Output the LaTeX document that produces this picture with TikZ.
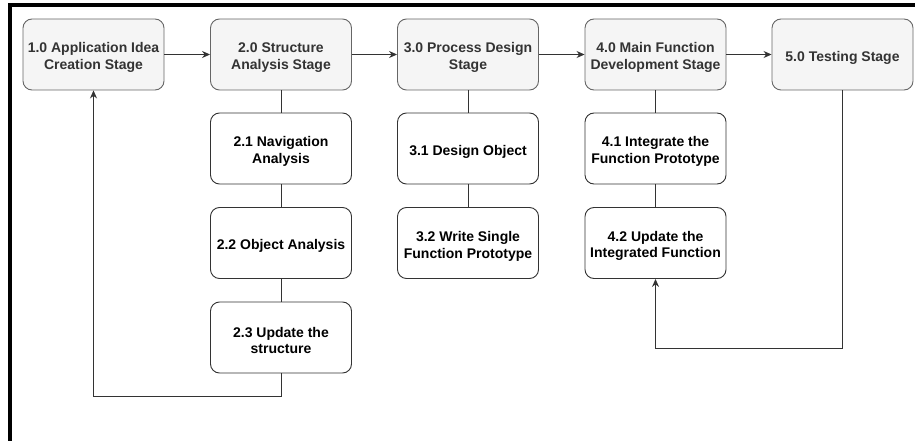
\documentclass[tikz,border=0pt]{standalone}
\usepackage{fontspec}
\setmainfont{Liberation Sans}
\usetikzlibrary{arrows.meta}
\definecolor{stagefill}{HTML}{F5F5F5}
\definecolor{stageline}{HTML}{666666}
\definecolor{stagetext}{HTML}{333333}
\definecolor{taskline}{HTML}{333333}
\tikzset{
  box/.style={rounded corners=9pt, minimum width=141pt, minimum height=71pt,
    inner sep=0pt, line width=0.9pt},
  caption/.style={align=center, yshift=-3pt, inner sep=0pt,
    font=\fontsize{14}{16.8}\selectfont\bfseries},
  stagebox/.style={box, draw=stageline, fill=stagefill,
    label={[caption, text=stagetext]center:#1}},
  taskbox/.style={box, draw=taskline, fill=white,
    label={[caption, text=black]center:#1}},
  link/.style={draw=taskline, line width=0.9pt},
  flow/.style={link, -{Stealth[length=8pt,width=7pt]}},
}
\begin{document}
\begin{tikzpicture}[x=1pt,y=-1pt]
\useasboundingbox (0,0) rectangle (915,441);
% page frame (top and left edges)
\draw[line width=3.5pt] (9.8,441) -- (9.8,5) -- (915,5);

% stages
\node[stagebox={1.0 Application Idea\\Creation Stage}] (s1) at (93.5,54.5) {};
\node[stagebox={2.0 Structure\\Analysis Stage}] (s2) at (281,54.5) {};
\node[stagebox={3.0 Process Design\\Stage}] (s3) at (468,54.5) {};
\node[stagebox={4.0 Main Function\\Development Stage}] (s4) at (655.5,54.5) {};
\node[stagebox={5.0 Testing Stage}] (s5) at (842.5,54.5) {};

% tasks
\node[taskbox={2.1 Navigation\\Analysis}] (t21) at (281,148.5) {};
\node[taskbox={2.2 Object Analysis}] (t22) at (281,243) {};
\node[taskbox={2.3 Update the\\structure}] (t23) at (281,337.5) {};
\node[taskbox={3.1 Design Object}] (t31) at (468,148.5) {};
\node[taskbox={3.2 Write Single\\Function Prototype}] (t32) at (468,243) {};
\node[taskbox={4.1 Integrate the\\Function Prototype}] (t41) at (655.5,148.5) {};
\node[taskbox={4.2 Update the\\Integrated Function}] (t42) at (655.5,243) {};

% stage sequence
\draw[flow] (s1) -- (s2);
\draw[flow] (s2) -- (s3);
\draw[flow] (s3) -- (s4);
\draw[flow] (s4) -- (s5);

% task chains
\draw[link] (s2) -- (t21);
\draw[link] (t21) -- (t22);
\draw[link] (t22) -- (t23);
\draw[link] (s3) -- (t31);
\draw[link] (t31) -- (t32);
\draw[link] (s4) -- (t41);
\draw[link] (t41) -- (t42);

% feedback loops
\coordinate (b1) at (281,396);
\coordinate (b2) at (93.5,396);
\draw[flow] (t23.south) -- (b1) -- (b2) -- (s1.south);
\coordinate (c1) at (842.5,348);
\coordinate (c2) at (655.5,348);
\draw[flow] (s5.south) -- (c1) -- (c2) -- (t42.south);
\end{tikzpicture}
\end{document}
